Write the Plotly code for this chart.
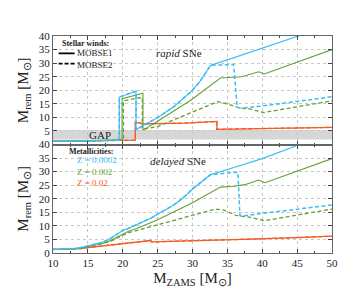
import plotly.graph_objects as go
from plotly.subplots import make_subplots

# ---------------- data: rapid SNe (top panel) ----------------
rap_blue_solid_x = [10, 15, 19.5, 19.5, 21.9, 21.9, 23, 25, 27.4, 29.8, 31, 32.6, 35, 37.5, 40, 45, 46]
rap_blue_solid_y = [1.2, 1.3, 1.6, 17.5, 19.6, 5.5, 7.0, 9.9, 14.1, 19.5, 23.0, 29.2, 31.2, 33.3, 35.4, 39.8, 40.7]
rap_blue_dash_x = [10, 15, 19.5, 19.5, 21.9, 21.9, 23, 25, 27.4, 29.8, 31, 32.6, 35.9, 36.4, 37, 40, 45, 50]
rap_blue_dash_y = [1.2, 1.3, 1.6, 17.5, 19.6, 5.5, 7.0, 9.9, 14.1, 19.5, 23.0, 29.2, 29.5, 13.7, 13.4, 14.2, 15.9, 17.6]
rap_green_solid_x = [10, 15, 19.9, 19.9, 22.9, 22.9, 25, 29.8, 34, 37, 39.5, 40.3, 50]
rap_green_solid_y = [1.2, 1.3, 1.7, 16.9, 18.9, 5.3, 8.6, 16.4, 24.5, 25.0, 26.8, 26.0, 35.0]
rap_green_dash_x = [10, 15, 20.1, 20.1, 22.8, 22.8, 25, 29.8, 33.6, 35, 36.9, 38, 40.2, 50]
rap_green_dash_y = [1.2, 1.3, 1.7, 16.1, 17.4, 5.6, 6.6, 11.8, 15.8, 15.0, 13.3, 13.2, 11.8, 16.1]
rap_red_x = [10, 15, 20, 21.8, 21.8, 23, 29, 33.5, 33.5, 40, 50]
rap_red_y = [1.2, 1.3, 1.5, 1.6, 8.2, 7.6, 7.9, 8.5, 5.6, 5.9, 6.3]

# ---------------- data: delayed SNe (bottom panel) ----------------
del_blue_solid_x = [10, 12, 13, 14, 15, 16, 17, 18, 19, 20, 21, 22, 23, 24, 25, 26, 27, 28, 29, 30, 31, 32, 32.6, 35, 37, 40, 45, 46]
del_blue_solid_y = [1.3, 1.4, 1.6, 2.0, 2.6, 3.2, 3.9, 5.0, 6.5, 8.3, 9.3, 10.4, 11.6, 12.8, 14.3, 15.7, 17.2, 19.0, 21.1, 23.6, 25.6, 27.6, 28.9, 30.8, 32.5, 34.8, 39.6, 40.5]
del_blue_dash_x = [10, 12, 13, 14, 15, 16, 17, 18, 19, 20, 21, 22, 23, 24, 25, 26, 27, 28, 29, 30, 31, 32, 32.6, 35, 36.5, 36.8, 37, 40, 45, 50]
del_blue_dash_y = [1.3, 1.4, 1.6, 2.0, 2.6, 3.2, 3.9, 5.0, 6.5, 8.3, 9.3, 10.4, 11.6, 12.8, 14.3, 15.7, 17.2, 19.0, 21.1, 23.6, 25.6, 27.6, 28.9, 29.5, 29.8, 13.9, 13.6, 14.6, 16.1, 17.7]
del_green_solid_x = [10, 13, 15, 17, 18, 19, 20, 21, 22, 25, 30, 34, 36, 37.5, 39.5, 40.4, 50]
del_green_solid_y = [1.3, 1.5, 2.3, 3.4, 4.3, 5.5, 7.0, 8.2, 9.0, 12.3, 18.5, 24.3, 24.6, 25.2, 26.9, 25.9, 34.8]
del_green_dash_x = [10, 13, 15, 18, 19, 20, 21, 22, 25, 30, 33.3, 34.5, 36.2, 37, 38, 40.3, 45, 50]
del_green_dash_y = [1.3, 1.5, 2.3, 4.1, 5.2, 6.6, 7.6, 8.3, 10.3, 13.9, 16.2, 15.8, 13.9, 13.6, 13.3, 11.9, 14.0, 16.2]
del_red_x = [10, 12, 14, 15, 16, 17, 18, 19, 20, 21, 22, 23, 24, 24.1, 26, 30, 37, 45, 50]
del_red_y = [1.3, 1.35, 1.6, 2.0, 2.3, 2.6, 2.9, 3.3, 3.6, 3.9, 4.2, 4.4, 4.6, 4.1, 4.2, 4.5, 5.0, 5.7, 6.2]

gap_low, gap_high = 1.8, 5.3
x_ticks = [10, 15, 20, 25, 30, 35, 40, 45, 50]
y_ticks_top = [5, 10, 15, 20, 25, 30, 35, 40]
y_ticks_bottom = [0, 5, 10, 15, 20, 25, 30, 35, 40]
metal_labels = ["Z = 0.0002", "Z = 0.002", "Z = 0.02"]
wind_labels = ["MOBSE1", "MOBSE2"]

BLUE = "#38bdf5"
GREEN = "#63a035"
RED = "#f65a22"
FONT = "Liberation Serif"
DASH = "4px,2.5px"

fig = make_subplots(rows=2, cols=1, shared_xaxes=True, vertical_spacing=0)

def add(x, y, color, dash, row, width=1.1):
    fig.add_trace(go.Scatter(x=x, y=y, mode="lines", showlegend=False, hoverinfo="skip",
                             line=dict(color=color, width=width, dash=dash)), row=row, col=1)

# top panel
add(rap_red_x, rap_red_y, RED, "solid", 1, 1.3)
add(rap_red_x, rap_red_y, RED, DASH, 1, 1.3)
add(rap_green_dash_x, rap_green_dash_y, GREEN, DASH, 1, 1.3)
add(rap_green_solid_x, rap_green_solid_y, GREEN, "solid", 1)
add(rap_blue_dash_x, rap_blue_dash_y, BLUE, DASH, 1, 1.5)
add(rap_blue_solid_x, rap_blue_solid_y, BLUE, "solid", 1)

# bottom panel
add(del_red_x, del_red_y, RED, "solid", 2, 1.3)
add(del_red_x, del_red_y, RED, DASH, 2, 1.3)
add(del_green_dash_x, del_green_dash_y, GREEN, DASH, 2, 1.3)
add(del_green_solid_x, del_green_solid_y, GREEN, "solid", 2)
add(del_blue_dash_x, del_blue_dash_y, BLUE, DASH, 2, 1.5)
add(del_blue_solid_x, del_blue_solid_y, BLUE, "solid", 2)

# gap band in top panel (after traces so the subplot is not empty)
fig.add_shape(type="rect", xref="x domain", yref="y", x0=0, x1=1, y0=gap_low, y1=gap_high,
              fillcolor="#d6d6d6", line_width=0, layer="below")

# stellar-winds legend keys
for yy, dash in zip([33.6, 29.8], ["solid", "4px,2px"]):
    fig.add_shape(type="line", xref="x", yref="y", x0=10.8, x1=13.1, y0=yy, y1=yy,
                  line=dict(color="black", width=1.6, dash=dash))

axis_common = dict(showline=True, linecolor="#666", linewidth=1, mirror="ticks",
                   ticks="inside", ticklen=4, tickcolor="#444",
                   showgrid=True, gridcolor="#c8c8c8", griddash="dot", gridwidth=1,
                   zeroline=False, tickfont=dict(family=FONT, size=11, color="#222"))

fig.update_xaxes(range=[10, 50], tickvals=x_ticks, minor=dict(dtick=2.5, ticks="inside", ticklen=2, tickcolor="#444", showgrid=False), **axis_common)
fig.update_xaxes(showticklabels=False, row=1, col=1)
fig.update_xaxes(title=dict(text="M<sub>ZAMS</sub> [M<sub>⊙</sub>]", font=dict(family=FONT, size=15, color="#222"), standoff=4), row=2, col=1)

ytitle = dict(text="M<sub>rem</sub> [M<sub>⊙</sub>]", font=dict(family=FONT, size=15, color="#222"), standoff=6)
fig.update_yaxes(range=[0, 40], tickvals=y_ticks_top, title=ytitle, row=1, col=1, **axis_common)
fig.update_yaxes(range=[0, 40], tickvals=y_ticks_bottom, title=ytitle, row=2, col=1, **axis_common)

ann = []
ann.append(dict(x=28.1, y=33.9, xref="x", yref="y", text="<i>rapid</i> SNe", showarrow=False,
                font=dict(family=FONT, size=11, color="#222")))
ann.append(dict(x=27.9, y=34.0, xref="x2", yref="y2", text="<i>delayed</i> SNe", showarrow=False,
                font=dict(family=FONT, size=11, color="#222")))
ann.append(dict(x=16.8, y=3.6, xref="x", yref="y", text="GAP", showarrow=False,
                font=dict(family=FONT, size=11, color="#222")))
ann.append(dict(x=11.0, y=37.2, xref="x", yref="y", text="<b>Stellar winds:</b>", showarrow=False,
                xanchor="left", yanchor="middle", font=dict(family=FONT, size=8, color="#222")))
ann.append(dict(x=13.2, y=31.7, xref="x", yref="y", text="<br>".join(wind_labels), showarrow=False,
                xanchor="left", yanchor="middle", align="left", font=dict(family=FONT, size=9, color="#222")))
ann.append(dict(x=12.0, y=37.6, xref="x2", yref="y2", text="<b>Metallicities:</b>", showarrow=False,
                xanchor="left", yanchor="middle", font=dict(family=FONT, size=8, color="#222")))
zblock = "<br>".join(f"<span style='color:{c}'>{lab}</span>" for lab, c in zip(metal_labels, [BLUE, GREEN, RED]))
ann.append(dict(x=13.2, y=30.0, xref="x2", yref="y2", text=zblock, showarrow=False,
                xanchor="left", yanchor="middle", align="left", font=dict(family=FONT, size=9, color="#222")))

fig.update_layout(
    width=360, height=288,
    margin=dict(l=45, r=36, t=28, b=29),
    plot_bgcolor="white", paper_bgcolor="white",
    annotations=ann,
    showlegend=False,
)

fig.write_html("out.html")
